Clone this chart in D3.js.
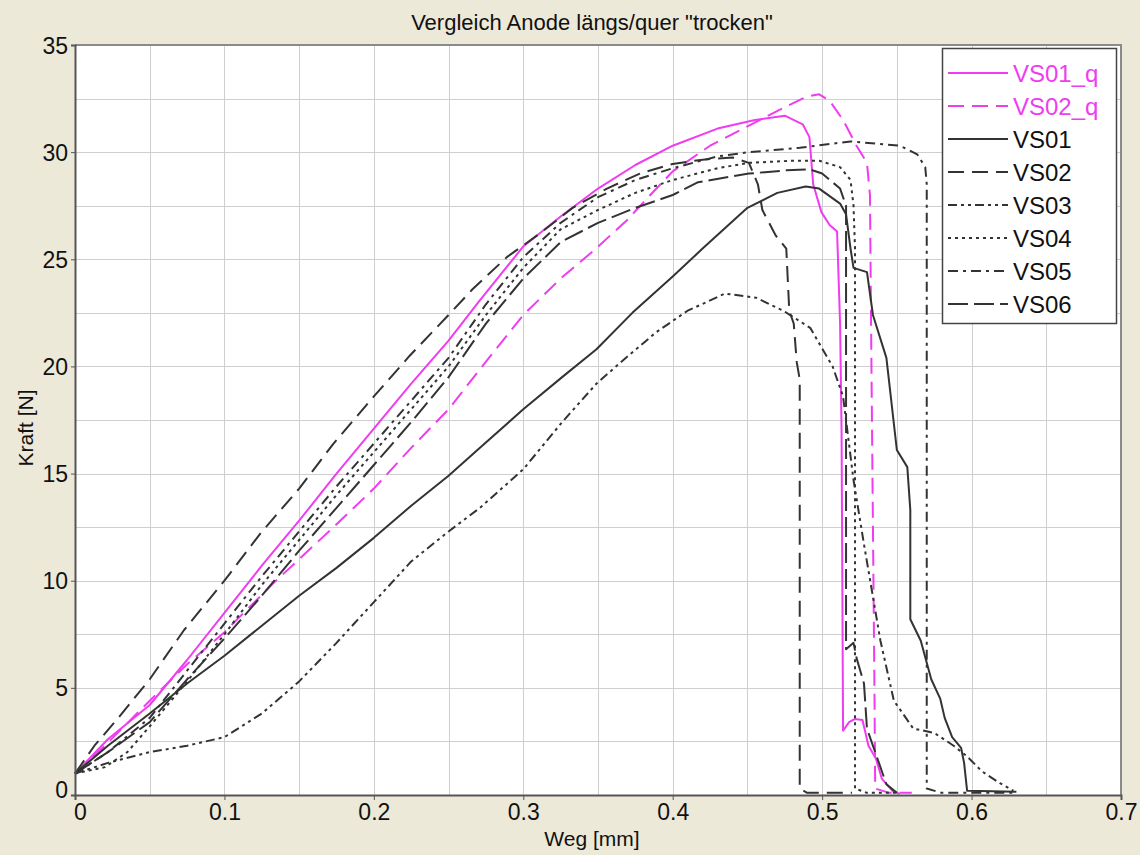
<!DOCTYPE html>
<html>
<head>
<meta charset="utf-8">
<script src="https://cdn.jsdelivr.net/npm/d3@7"></script>
<style>
  body { margin: 0; background: #ece9d8; }
  svg { display: block; font-family: "Liberation Sans", Arial, sans-serif; }
</style>
</head>
<body>
<svg id="chart"></svg>
<script>
// --- data (Weg [mm], Kraft [N]) ---
const vs01q = [[0,1.0],[0.022,2.6],[0.05,4.2],[0.075,6.3],[0.1,8.5],[0.125,10.7],[0.15,12.8],[0.175,15.0],[0.2,17.1],[0.225,19.2],[0.25,21.2],[0.27,23.0],[0.3,25.6],[0.325,27.0],[0.35,28.3],[0.375,29.4],[0.4,30.3],[0.43,31.1],[0.455,31.5],[0.475,31.7],[0.487,31.3],[0.4915,30.7],[0.494,28.5],[0.4995,27.2],[0.505,26.6],[0.51,26.3],[0.512,22.0],[0.513,17.0],[0.514,3.0],[0.518,3.4],[0.522,3.55],[0.527,3.5],[0.531,2.3],[0.536,1.7],[0.54,0.75],[0.547,0.2],[0.552,0.05]]
const vs02q = [[0,1.0],[0.02,2.3],[0.05,4.4],[0.075,6.1],[0.1,7.6],[0.133,9.9],[0.173,12.5],[0.2,14.3],[0.225,16.2],[0.25,18.0],[0.277,20.4],[0.3,22.4],[0.325,24.1],[0.347,25.4],[0.369,26.8],[0.385,28.0],[0.4,29.1],[0.425,30.3],[0.45,31.2],[0.475,32.1],[0.49,32.6],[0.498,32.7],[0.505,32.4],[0.514,31.5],[0.523,30.3],[0.53,29.5],[0.532,28.0],[0.533,20.0],[0.535,5.0],[0.5355,0.3],[0.545,0.1],[0.56,0.1]]
const vs01 = [[0,1.0],[0.022,2.3],[0.05,3.8],[0.075,5.2],[0.1,6.5],[0.125,7.9],[0.15,9.3],[0.175,10.6],[0.2,12.0],[0.225,13.5],[0.25,14.9],[0.271,16.2],[0.3,18.0],[0.326,19.5],[0.349,20.8],[0.373,22.5],[0.4,24.2],[0.42,25.5],[0.45,27.4],[0.47,28.1],[0.489,28.4],[0.498,28.3],[0.512,27.6],[0.516,27.1],[0.519,25.5],[0.521,24.6],[0.53,24.4],[0.534,22.4],[0.543,20.4],[0.55,16.1],[0.557,15.3],[0.559,13.3],[0.559,8.2],[0.566,7.2],[0.573,5.4],[0.579,4.5],[0.582,3.6],[0.587,2.7],[0.593,2.2],[0.595,1.5],[0.597,0.2],[0.63,0.15]]
const vs02 = [[0,1.0],[0.013,2.3],[0.029,3.6],[0.05,5.4],[0.073,7.7],[0.1,10.0],[0.124,12.2],[0.15,14.3],[0.173,16.4],[0.2,18.6],[0.224,20.5],[0.25,22.4],[0.266,23.6],[0.289,25.1],[0.311,26.2],[0.333,27.4],[0.356,28.3],[0.378,29.0],[0.4,29.45],[0.42,29.65],[0.44,29.75],[0.451,29.5],[0.457,28.5],[0.46,27.3],[0.469,26.1],[0.476,25.5],[0.478,22.6],[0.481,22.0],[0.483,20.2],[0.485,19.4],[0.485,0.3],[0.49,0.1],[0.52,0.1]]
const vs03 = [[0,1.0],[0.022,1.5],[0.05,2.0],[0.075,2.3],[0.1,2.7],[0.125,3.8],[0.15,5.3],[0.175,7.1],[0.2,9.0],[0.225,10.9],[0.25,12.3],[0.271,13.4],[0.3,15.2],[0.326,17.4],[0.349,19.2],[0.367,20.3],[0.389,21.6],[0.41,22.6],[0.435,23.4],[0.456,23.2],[0.474,22.6],[0.492,21.8],[0.507,20.0],[0.514,18.6],[0.521,14.7],[0.528,11.7],[0.539,7.2],[0.548,4.4],[0.561,3.1],[0.575,2.9],[0.588,2.3],[0.597,1.8],[0.607,1.1],[0.619,0.55],[0.628,0.2]]
const vs04 = [[0,1.0],[0.02,1.3],[0.035,2.0],[0.05,3.2],[0.075,5.3],[0.1,7.5],[0.125,9.8],[0.15,11.9],[0.175,14.0],[0.2,16.0],[0.225,18.0],[0.25,20.0],[0.275,22.4],[0.3,24.6],[0.325,26.4],[0.35,27.3],[0.375,28.1],[0.4,28.7],[0.43,29.25],[0.451,29.5],[0.48,29.6],[0.498,29.6],[0.512,29.3],[0.519,28.7],[0.521,27.5],[0.522,25.5],[0.522,0.3],[0.53,0.1],[0.55,0.1]]
const vs05 = [[0,1.0],[0.022,2.0],[0.05,3.6],[0.075,5.8],[0.1,8.0],[0.125,10.2],[0.15,12.3],[0.175,14.4],[0.2,16.4],[0.225,18.4],[0.25,20.4],[0.275,22.9],[0.3,25.1],[0.325,26.7],[0.35,27.9],[0.375,28.7],[0.4,29.25],[0.43,29.8],[0.451,30.0],[0.485,30.2],[0.519,30.5],[0.552,30.3],[0.5636,29.9],[0.569,29.3],[0.57,28.5],[0.57,0.3],[0.58,0.1],[0.63,0.1]]
const vs06 = [[0,1.0],[0.022,2.0],[0.05,3.4],[0.075,5.4],[0.1,7.3],[0.125,9.3],[0.15,11.4],[0.175,13.4],[0.2,15.4],[0.225,17.4],[0.25,19.5],[0.275,22.0],[0.3,24.1],[0.325,25.8],[0.35,26.7],[0.375,27.4],[0.4,28.0],[0.417,28.6],[0.451,29.0],[0.476,29.15],[0.4916,29.2],[0.5,29.0],[0.512,28.3],[0.516,27.5],[0.516,6.8],[0.521,7.1],[0.523,6.4],[0.528,5.2],[0.53,3.1],[0.537,1.7],[0.543,0.5],[0.55,0.1]]

const seriesNames = ['VS01_q', 'VS02_q', 'VS01', 'VS02', 'VS03', 'VS04', 'VS05', 'VS06']
const seriesData = [vs01q, vs02q, vs01, vs02, vs03, vs04, vs05, vs06]
const xTicks = [0, 0.1, 0.2, 0.3, 0.4, 0.5, 0.6, 0.7]
const yTicks = [0, 5, 10, 15, 20, 25, 30, 35]

const MAGENTA = '#f03cf0'
const DARK = '#333333'
const styles = {
    VS01_q: { color: MAGENTA, dash: null },
    VS02_q: { color: MAGENTA, dash: '16,8' },
    VS01: { color: DARK, dash: null },
    VS02: { color: DARK, dash: '16,8' },
    VS03: { color: DARK, dash: '9,4,3,4,3,4' },
    VS04: { color: DARK, dash: '3,4' },
    VS05: { color: DARK, dash: '10,5,3,5' },
    VS06: { color: DARK, dash: '20,6' },
}

const width = 1140, height = 855
const plot = { left: 75, top: 45, right: 1121, bottom: 795 }

const svg = d3.select('#chart').attr('width', width).attr('height', height)

svg.append('rect').attr('width', width).attr('height', height).attr('fill', '#ece9d8')

const x = d3.scaleLinear().domain([0, 0.7]).range([plot.left, plot.right])
const y = d3.scaleLinear().domain([0, 35]).range([plot.bottom, plot.top])

// plot background
svg.append('rect')
    .attr('x', plot.left).attr('y', plot.top)
    .attr('width', plot.right - plot.left).attr('height', plot.bottom - plot.top)
    .attr('fill', '#fff')

// grid every 0.05 / 2.5
const grid = svg.append('g').attr('stroke', '#cfcfcf').attr('stroke-width', 1)
grid.selectAll('line.gx').data(d3.range(1, 14).map(i => i * 0.05))
    .join('line').attr('class', 'gx')
    .attr('x1', d => Math.round(x(d)) + 0.5).attr('x2', d => Math.round(x(d)) + 0.5)
    .attr('y1', plot.top).attr('y2', plot.bottom)
grid.selectAll('line.gy').data(d3.range(1, 14).map(i => i * 2.5))
    .join('line').attr('class', 'gy')
    .attr('y1', d => Math.round(y(d)) + 0.5).attr('y2', d => Math.round(y(d)) + 0.5)
    .attr('x1', plot.left).attr('x2', plot.right)

// frame top/right
svg.append('path')
    .attr('d', `M${plot.left},${plot.top}H${plot.right}V${plot.bottom}`)
    .attr('fill', 'none').attr('stroke', '#8a8a8a').attr('stroke-width', 2)

// curves
const line = d3.line().x(d => x(d[0])).y(d => y(d[1]))
const curves = svg.append('g').attr('fill', 'none').attr('stroke-width', 2)
    .attr('stroke-linejoin', 'round')
seriesNames.forEach((name, i) => {
    curves.append('path')
        .datum(seriesData[i])
        .attr('d', line)
        .attr('stroke', styles[name].color)
        .attr('stroke-dasharray', styles[name].dash)
})

// axes
const xAxis = d3.axisBottom(x).tickValues(xTicks).tickSize(5).tickPadding(4)
    .tickFormat(d => d === 0 ? '0' : d3.format('.1f')(d))
const yAxis = d3.axisLeft(y).tickValues(yTicks).tickSize(4).tickPadding(3)

const gx = svg.append('g').attr('transform', `translate(0,${plot.bottom})`).call(xAxis)
const gy = svg.append('g').attr('transform', `translate(${plot.left},0)`).call(yAxis)
;[gx, gy].forEach(g => {
    g.select('.domain').attr('stroke', '#555').attr('stroke-width', 2)
    g.selectAll('.tick line').attr('stroke', '#555')
    g.selectAll('.tick text').attr('fill', '#111').style('font-size', '23px')
        .style('font-family', '"Liberation Sans", Arial, sans-serif')
})
gx.selectAll('.tick text').attr('dx', d => d === 0 ? 5 : 0)
gy.selectAll('.tick text').attr('dy', d => d === 0 ? '0.1em' : '0.35em')

// titles
svg.append('text')
    .attr('x', 592).attr('y', 30)
    .attr('text-anchor', 'middle').attr('font-size', 22).attr('fill', '#111')
    .text('Vergleich Anode längs/quer "trocken"')

svg.append('text')
    .attr('x', 592).attr('y', 846)
    .attr('text-anchor', 'middle').attr('font-size', 21).attr('fill', '#111')
    .text('Weg [mm]')

svg.append('text')
    .attr('transform', 'translate(33,428) rotate(-90)')
    .attr('text-anchor', 'middle').attr('font-size', 21).attr('fill', '#111')
    .text('Kraft [N]')

// legend
const legend = svg.append('g')
legend.append('rect')
    .attr('x', 942.5).attr('y', 48.5).attr('width', 174).attr('height', 275)
    .attr('fill', '#fff').attr('stroke', '#444').attr('stroke-width', 1.5)
const rowY = i => 73 + i * 33
seriesNames.forEach((name, i) => {
    legend.append('line')
        .attr('x1', 948).attr('x2', 1008)
        .attr('y1', rowY(i)).attr('y2', rowY(i))
        .attr('stroke', styles[name].color).attr('stroke-width', 2)
        .attr('stroke-dasharray', styles[name].dash)
    legend.append('text')
        .attr('x', 1013).attr('y', rowY(i))
        .attr('dy', '0.36em').attr('font-size', 24)
        .attr('fill', styles[name].color === MAGENTA ? MAGENTA : '#111')
        .text(name)
})
</script>
</body>
</html>
